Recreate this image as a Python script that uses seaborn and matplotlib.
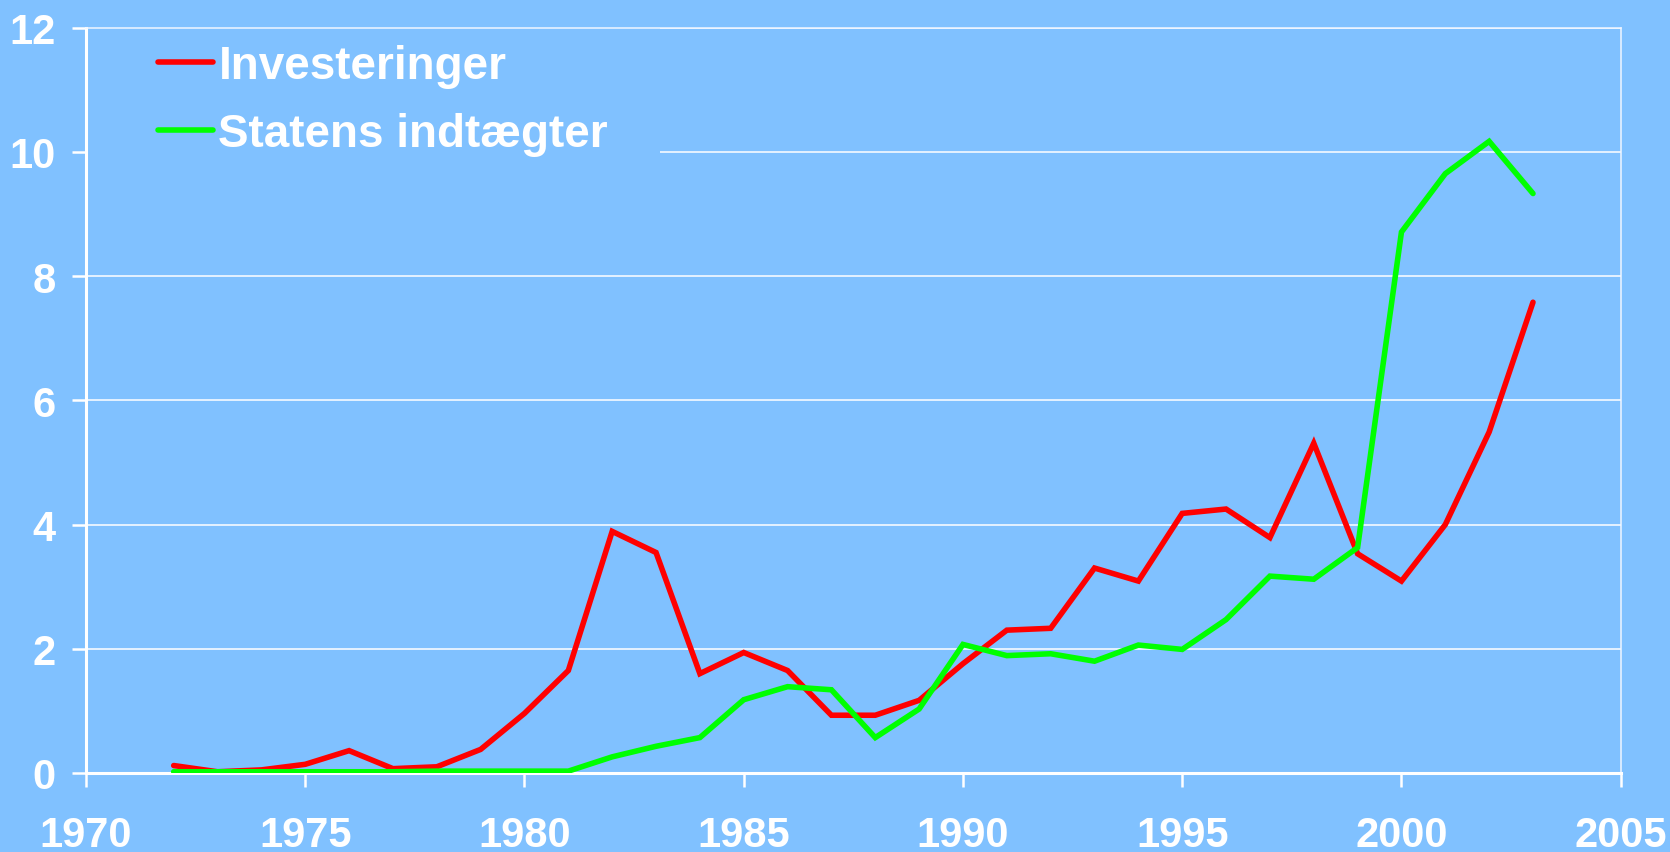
import matplotlib
matplotlib.use("Agg")
import matplotlib.pyplot as plt
from matplotlib.patches import Rectangle
from matplotlib.lines import Line2D
import seaborn as sns
import pandas as pd

years = list(range(1972, 2004))
investeringer = [0.12, 0.02, 0.05, 0.14, 0.36, 0.07, 0.10, 0.38, 0.96, 1.65,
                 3.89, 3.55, 1.60, 1.94, 1.65, 0.93, 0.93, 1.17, 1.76, 2.30,
                 2.33, 3.30, 3.09, 4.18, 4.25, 3.79, 5.31, 3.53, 3.09, 4.00,
                 5.49, 7.58]
statens_indtaegter = [0.02, 0.02, 0.02, 0.02, 0.02, 0.02, 0.03, 0.03, 0.03, 0.03,
                      0.26, 0.43, 0.57, 1.18, 1.39, 1.34, 0.57, 1.03, 2.07, 1.89,
                      1.92, 1.80, 2.06, 1.99, 2.47, 3.17, 3.12, 3.63, 8.71, 9.65,
                      10.17, 9.33]
series_names = ["Investeringer", "Statens indtægter"]
series_colors = ["#FF0000", "#00FF00"]
x_ticks = [1970, 1975, 1980, 1985, 1990, 1995, 2000, 2005]
y_ticks = [0, 2, 4, 6, 8, 10, 12]

df = pd.DataFrame({
    "year": years * 2,
    "value": investeringer + statens_indtaegter,
    "series": [series_names[0]] * len(years) + [series_names[1]] * len(years),
})

FAM = ["Liberation Sans", "DejaVu Sans"]
TICK_SIZE = 30
LEG_SIZE = 33

BG = "#80C1FF"
sns.set_theme(style="white")
plt.rcParams["font.family"] = FAM
plt.rcParams["font.weight"] = "bold"

fig = plt.figure(figsize=(16.7, 8.53), dpi=100, facecolor=BG)
ax = fig.add_axes([86 / 1670, 1 - 774 / 853, (1620.7 - 86) / 1670, (774 - 28.7) / 853])
ax.set_facecolor(BG)

sns.lineplot(data=df, x="year", y="value", hue="series", hue_order=series_names,
             palette=series_colors, linewidth=4, ax=ax, legend=False,
             solid_capstyle="round", solid_joinstyle="miter", zorder=3)

ax.set_xlim(1970, 2005)
ax.set_ylim(0, 12)
ax.set_xticks(x_ticks)
ax.set_yticks(y_ticks)
ax.set_xlabel("")
ax.set_ylabel("")

ax.set_axisbelow(True)
ax.yaxis.grid(True, color="white", linewidth=1.1, zorder=0.5)
ax.xaxis.grid(False)

for side in ["left", "bottom"]:
    ax.spines[side].set_color("white")
    ax.spines[side].set_linewidth(2.2)
for side in ["top", "right"]:
    ax.spines[side].set_color("#F0F6FF")
    ax.spines[side].set_linewidth(1.1)

ax.tick_params(axis="both", colors="white", length=10, width=1.8, direction="out",
               bottom=True, left=True, top=False, right=False)
ax.tick_params(axis="x", pad=20, labelsize=TICK_SIZE)
ax.tick_params(axis="y", pad=12, labelsize=TICK_SIZE)
for lab in ax.get_xticklabels() + ax.get_yticklabels():
    lab.set_fontweight("bold")
    lab.set_color("white")

# background panel behind the legend (hides gridlines there)
ax.add_patch(Rectangle((0, 1 - (200 - 28.7) / (774 - 28.7)), (660 - 86) / (1620.7 - 86),
                       (200 - 28.7) / (774 - 28.7), transform=ax.transAxes,
                       facecolor=BG, edgecolor="none", zorder=1))

handles = [Line2D([0], [0], color=c, linewidth=4, solid_capstyle="round") for c in series_colors]
leg = ax.legend(handles, series_names, loc="upper left",
                bbox_to_anchor=(158 / 1670, 1 - 45 / 853), bbox_transform=fig.transFigure,
                frameon=False, borderpad=0, borderaxespad=0,
                handlelength=1.2, handletextpad=0.12, labelspacing=0.52,
                prop={"family": FAM, "weight": "bold", "size": LEG_SIZE})
for t in leg.get_texts():
    t.set_color("white")

fig.savefig("out.png", dpi=100, facecolor=BG)
